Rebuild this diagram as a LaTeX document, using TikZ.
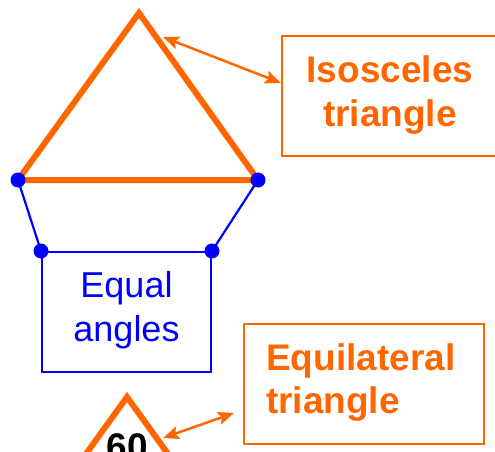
\documentclass[tikz,border=0pt]{standalone}
\usepackage{fontspec}
\setmainfont{Liberation Sans}
\usetikzlibrary{arrows.meta}
\definecolor{org}{HTML}{FF6600}
\definecolor{blu}{HTML}{0000FF}
\begin{document}
\begin{tikzpicture}[x=1pt,y=-1pt,
  tri/.style={draw=org,line width=6pt,line join=miter},
  bline/.style={draw=blu,line width=2.2pt},
  dot/.style={circle,fill=blu,inner sep=0pt,minimum size=15pt},
  obox/.style={draw=org,line width=2pt,rectangle,inner sep=0pt},
  bbox/.style={draw=blu,line width=2pt,rectangle,inner sep=0pt},
  dbl/.style={draw=org,line width=2.5pt,{Stealth[length=16pt,width=13pt,inset=3pt]}-{Stealth[length=16pt,width=13pt,inset=3pt]}},
  olabel/.style={text=org,font=\fontsize{37}{44}\selectfont\bfseries,inner sep=0pt},
  blabel/.style={text=blu,font=\fontsize{36}{43}\selectfont,inner sep=0pt,anchor=base},
]
\clip (0,0) rectangle (495,452);
% isosceles triangle
\coordinate (A) at (139,13);
\coordinate (B) at (18,180);
\coordinate (C) at (258,180);
\draw[tri] (A) -- (B) -- (C) -- cycle;
% equal angles box
\node[bbox, minimum width=169pt, minimum height=120pt] (eq) at (126.5,312) {};
\node[blabel] (eqa) at (126.5,297) {Equal};
\node[blabel] (eqb) at (126.5,341) {angles};
\node[dot] (d1) at (B) {};
\node[dot] (d2) at (C) {};
\node[dot] (d3) at (eq.north west) {};
\node[dot] (d4) at (eq.north east) {};
\draw[bline] (d1.center) -- (d3.center);
\draw[bline] (d2.center) -- (d4.center);
% isosceles label box
\node[obox, minimum width=214pt, minimum height=120pt] (iso) at (389,96) {};
\node[olabel, anchor=base] (isoa) at (390,82) {Isosceles};
\node[olabel, anchor=base] (isob) at (390,126) {triangle};
\coordinate (p1) at (163,37);
\draw[dbl] (p1) -- ([yshift=13pt]iso.west);
% equilateral triangle
\coordinate (E) at (127,397);
\coordinate (F) at (60,490);
\coordinate (G) at (194,490);
\draw[tri] (E) -- (F) -- (G) -- cycle;
\node[anchor=base, inner sep=0pt, font=\fontsize{37}{44}\selectfont\bfseries] (sixty) at (127.5,459) {60};
% equilateral label box
\node[obox, minimum width=240pt, minimum height=120pt] (equi) at (364,384) {};
\node[olabel, anchor=base west] (equia) at (266,370) {Equilateral};
\node[olabel, anchor=base west] (equib) at (266,413) {triangle};
\coordinate (p2) at (163,438);
\draw[dbl] (p2) -- ([xshift=-9pt,yshift=-29pt]equi.west);
\end{tikzpicture}
\end{document}
